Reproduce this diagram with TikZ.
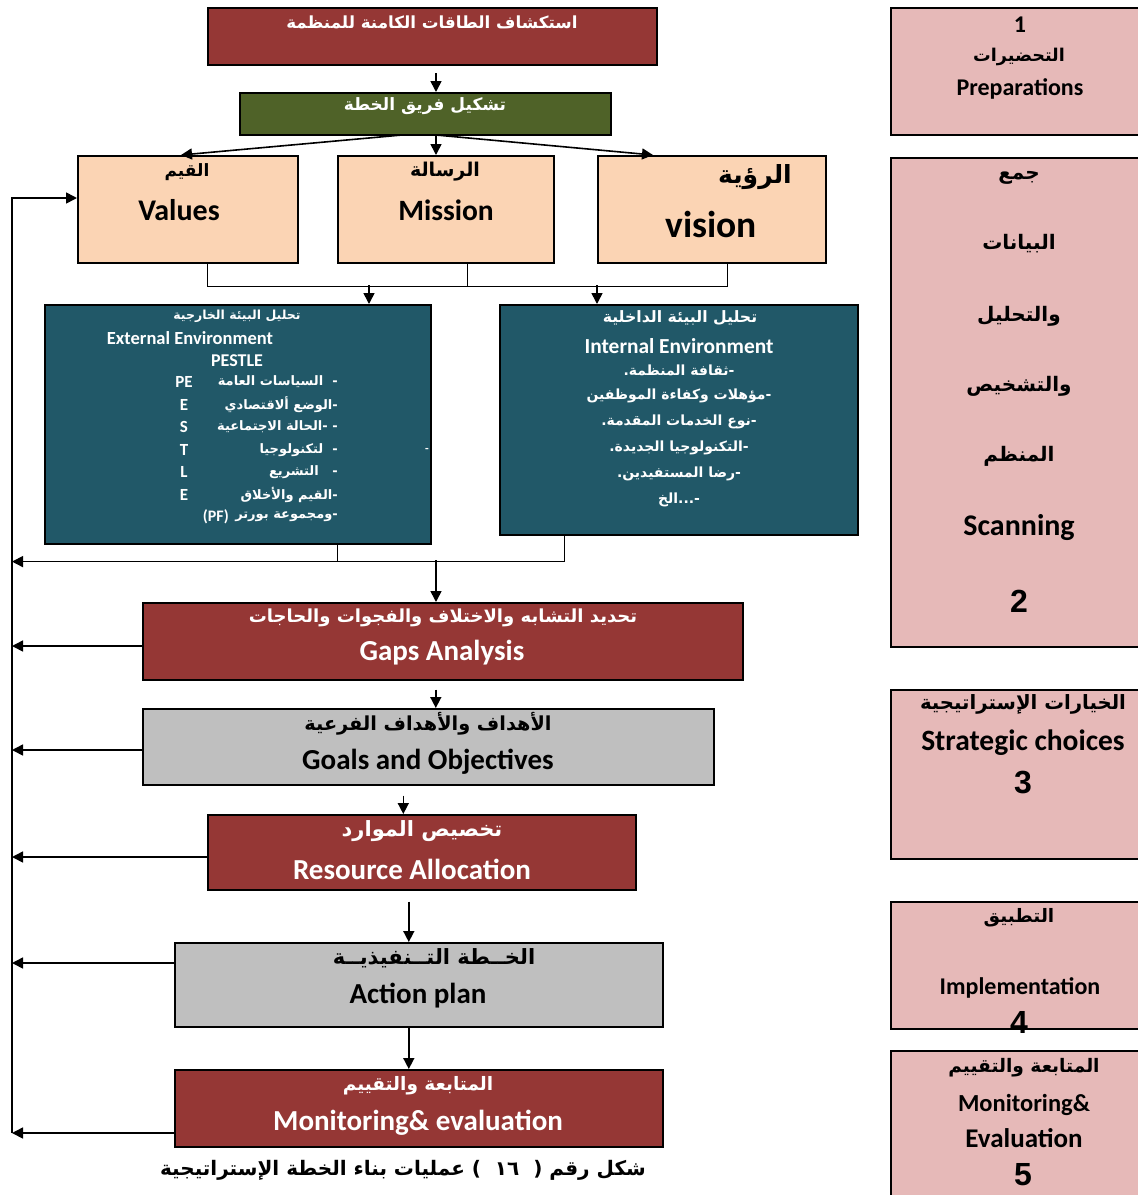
\documentclass[tikz,border=0pt]{standalone}
\usepackage{fontspec}
\setmainfont{Carlito}
\newfontfamily\arabicfont[Script=Arabic]{DejaVu Sans}
\newfontfamily\numfont{Liberation Sans}
\TeXXeTstate=1
\usepackage{xcolor}
\usetikzlibrary{arrows.meta, calc}
\definecolor{redbox}{HTML}{953735}
\definecolor{greenbox}{HTML}{4F6228}
\definecolor{peachbox}{HTML}{FBD4B4}
\definecolor{tealbox}{HTML}{215868}
\definecolor{graybox}{HTML}{BFBFBF}
\definecolor{pinkbox}{HTML}{E6B9B8}
\newcommand{\artxt}[1]{{\arabicfont\bfseries\beginR #1\endR}}
\newcommand{\fsz}[1]{\fontsize{#1}{#1}\selectfont}

\begin{document}
\begin{tikzpicture}[x=1pt,y=-1pt,
    box/.style={draw=black, line width=1.6pt, anchor=north west, inner sep=0pt},
    arr/.style={line width=1.6pt, -{Triangle[length=11pt,width=11pt]}},
    lbl/.style={inner sep=0pt, font=\bfseries}]
    \useasboundingbox (0,0) rectangle (1138,1195);
    % left column
    \node[box, fill=redbox, minimum width=449pt, minimum height=57pt] (explore) at (207,7) {};
    \node[box, fill=greenbox, minimum width=371pt, minimum height=42pt] (team) at (239,92) {};
    \node[box, fill=peachbox, minimum width=220pt, minimum height=107pt] (values) at (77,155) {};
    \node[box, fill=peachbox, minimum width=216pt, minimum height=107pt] (mission) at (337,155) {};
    \node[box, fill=peachbox, minimum width=228pt, minimum height=107pt] (vision) at (597,155) {};
    \node[box, fill=tealbox, minimum width=386pt, minimum height=239pt] (ext) at (44,304) {};
    \node[box, fill=tealbox, minimum width=358pt, minimum height=230pt] (int) at (499,304) {};
    \node[box, fill=redbox, minimum width=600pt, minimum height=77pt] (gaps) at (142,602) {};
    \node[box, fill=graybox, minimum width=571pt, minimum height=76pt] (goals) at (142,708) {};
    \node[box, fill=redbox, minimum width=428pt, minimum height=75pt] (res) at (207,814) {};
    \node[box, fill=graybox, minimum width=488pt, minimum height=84pt] (act) at (174,942) {};
    \node[box, fill=redbox, minimum width=488pt, minimum height=77pt] (mon) at (174,1069) {};
    % right column
    \node[box, fill=pinkbox, minimum width=260pt, minimum height=127pt] (prep) at (890,7) {};
    \node[box, fill=pinkbox, minimum width=260pt, minimum height=489pt] (scan) at (890,157) {};
    \node[box, fill=pinkbox, minimum width=260pt, minimum height=169pt] (choice) at (890,689) {};
    \node[box, fill=pinkbox, minimum width=260pt, minimum height=127pt] (impl) at (890,901) {};
    \node[box, fill=pinkbox, minimum width=260pt, minimum height=160pt] (eval) at (890,1050) {};

    % texts
    \node[lbl, white] (exploreT) at (432,22) {\fsz{16.7}\artxt{استكشاف الطاقات الكامنة للمنظمة}};
    \node[lbl, white] (teamT) at (425,106) {\fsz{17}\artxt{تشكيل فريق الخطة}};
    \node[lbl] (valuesA) at (187,172) {\fsz{17}\artxt{القيم}};
    \node[lbl] (valuesE) at (179,210) {\fsz{30}Values};
    \node[lbl] (missionA) at (445,172) {\fsz{19}\artxt{الرسالة}};
    \node[lbl] (missionE) at (446,210) {\fsz{29.5}Mission};
    \node[lbl] (visionA) at (755,177) {\fsz{25}\artxt{الرؤية}};
    \node[lbl] (visionE) at (711,224) {\fsz{37.5}vision};

    \node[lbl, white] (extA) at (237,316) {\fsz{12.5}\artxt{تحليل البيئة الخارجية}};
    \node[lbl, white] (extE) at (190,338) {\fsz{18.5}External Environment};
    \node[lbl, white] (pestle) at (237,361) {\fsz{18}PESTLE};
    \foreach \n/\yy/\t in {p1/382/{-\ \ السياسات العامة}, p2/405/{-الوضع ألاقتصادي},
        p3/427/{- -الحالة الاجتماعية}, p4/450/{-\ \ لتكنولوجيا}, p5/472/{-\ \ \ التشريع},
        p6/495/{-القيم والأخلاق}, p7/517/{-ومجموعة بورتر}}
      \node[lbl, white, anchor=east] (\n) at (338,\yy) {\fsz{13}\artxt{\t}};
    \node[lbl, white, anchor=east] (pf) at (229,517) {\fsz{16}(PF)};
    \foreach \n/\yy/\t in {l1/382/PE, l2/405/E, l3/427/S, l4/450/T, l5/472/L, l6/495/E}
      \node[lbl, white] (\n) at (184,\yy) {\fsz{17}\t};
    \node[lbl, white] (dash) at (427,450) {\fsz{12}-};

    \node[lbl, white] (intA) at (680,318) {\fsz{15.7}\artxt{تحليل البيئة الداخلية}};
    \node[lbl, white] (intE) at (679,346) {\fsz{21.4}Internal Environment};
    \foreach \n/\yy/\t in {i1/370/{-ثقافة المنظمة.}, i2/396/{-مؤهلات وكفاءة الموظفين},
        i3/422/{-نوع الخدمات المقدمة.}, i4/448/{-التكنولوجيا الجديدة.},
        i5/474/{-رضا المستفيدين.}, i6/500/{-...الخ}}
      \node[lbl, white] (\n) at (679,\yy) {\fsz{14}\artxt{\t}};

    \node[lbl, white] (gapsA) at (443,618) {\fsz{18}\artxt{تحديد التشابه والاختلاف والفجوات والحاجات}};
    \node[lbl, white] (gapsE) at (442,653) {\fsz{29}Gaps Analysis};
    \node[lbl] (goalsA) at (428,724) {\fsz{19.3}\artxt{الأهداف والأهداف الفرعية}};
    \node[lbl] (goalsE) at (428,762) {\fsz{29}Goals and Objectives};
    \node[lbl, white] (resA) at (422,831) {\fsz{21}\artxt{تخصيص الموارد}};
    \node[lbl, white] (resE) at (412,869) {\fsz{29}Resource Allocation};
    \node[lbl] (actA) at (434,958) {\fsz{21}\artxt{الخــطة التــنفيذيــة}};
    \node[lbl] (actE) at (418,996) {\fsz{29}Action plan};
    \node[lbl, white] (monA) at (418,1086) {\fsz{18.5}\artxt{المتابعة والتقييم}};
    \node[lbl, white] (monE) at (418,1123) {\fsz{29}Monitoring\& evaluation};
    \node[lbl] (caption) at (403,1170) {\fsz{20}\artxt{شكل رقم (\ \ ١٦\ \ ) عمليات بناء الخطة الإستراتيجية}};

    \node[lbl] (prepN) at (1020,25) {\fsz{24}1};
    \node[lbl] (prepA) at (1019,57) {\fsz{17.6}\artxt{التحضيرات}};
    \node[lbl] (prepE) at (1020,89) {\fsz{24}Preparations};
    \foreach \n/\yy/\t in {s1/178/{جمع}, s2/244/{البيانات}, s3/316/{والتحليل}, s4/386/{والتشخيص}, s5/456/{المنظم}}
      \node[lbl] (\n) at (1019,\yy) {\fsz{20}\artxt{\t}};
    \node[lbl] (scanE) at (1019,528) {\fsz{30}Scanning};
    \node[lbl] (scanN) at (1019,601) {\fsz{32}\numfont\bfseries 2};
    \node[lbl] (choiceA) at (1023,704) {\fsz{19.7}\artxt{الخيارات الإستراتيجية}};
    \node[lbl] (choiceE) at (1023,743) {\fsz{29.5}Strategic choices};
    \node[lbl] (choiceN) at (1023,782) {\fsz{32}\numfont\bfseries 3};
    \node[lbl] (implA) at (1019,918) {\fsz{18.5}\artxt{التطبيق}};
    \node[lbl] (implE) at (1020,988) {\fsz{24}Implementation};
    \node[lbl] (implN) at (1019,1022) {\fsz{32}\numfont\bfseries 4};
    \node[lbl] (evalA) at (1024,1068) {\fsz{18.6}\artxt{المتابعة والتقييم}};
    \node[lbl] (evalE) at (1024,1105) {\fsz{24.5}Monitoring\&};
    \node[lbl] (evalE2) at (1024,1138) {\fsz{27}Evaluation};
    \node[lbl] (evalN) at (1023,1175) {\fsz{32}\numfont\bfseries 5};

    % connectors
    \coordinate (c1) at (436,73);
    \draw[arr] (c1) -- (c1 |- team.north);
    \coordinate (tl) at (402,135);
    \coordinate (tc) at (436,135);
    \draw[arr] (tl) -- ($(values.north west)+(104,0)$);
    \draw[arr] (tc) -- (tc |- mission.north);
    \draw[arr] (tc) -- ($(vision.north west)+(56,0)$);

    \draw ($(values.south west)+(130,0)$) -- ++(0,23) -| ($(vision.south west)+(130,0)$);
    \draw ($(mission.south west)+(130,0)$) -- ++(0,23);
    \draw[arr] (369,285) -- ($(ext.north west)+(325,0)$);
    \draw[arr] (597,285) -- ($(int.north west)+(98,0)$);

    \coordinate (fbtop) at (12,198);
    \coordinate (fbbot) at (12,1133);
    \draw[arr] (fbbot) -- (fbtop) -- (fbtop -| values.west);

    \draw ($(ext.south west)+(293,0)$) -- ++(0,17) coordinate (jx);
    \draw ($(int.south west)+(65,0)$) |- (jx);
    \draw[arr] (jx) -- (jx -| fbtop);
    \coordinate (jg) at (436,560);
    \draw[arr] (jg) -- (jg |- gaps.north);

    \foreach \b/\yy in {gaps/44, goals/42, res/43, act/21, mon/64} {
      \path (\b.north west) ++(0,\yy) coordinate (lb);
      \draw[arr] (lb) -- (lb -| fbtop);
    }

    \draw[arr] ([xshift=-7pt,yshift=-9pt]gaps.south) -- ([xshift=-7pt]gaps.south |- goals.north);
    \draw[arr] ([xshift=-25pt,yshift=-10pt]goals.south) -- ([xshift=-25pt]goals.south |- res.north);
    \draw[arr] ([xshift=-13pt,yshift=-11pt]res.south) -- ([xshift=-13pt]res.south |- act.north);
    \draw[arr] ([xshift=-10pt]act.south) -- ([xshift=-10pt]act.south |- mon.north);
\end{tikzpicture}
\end{document}
